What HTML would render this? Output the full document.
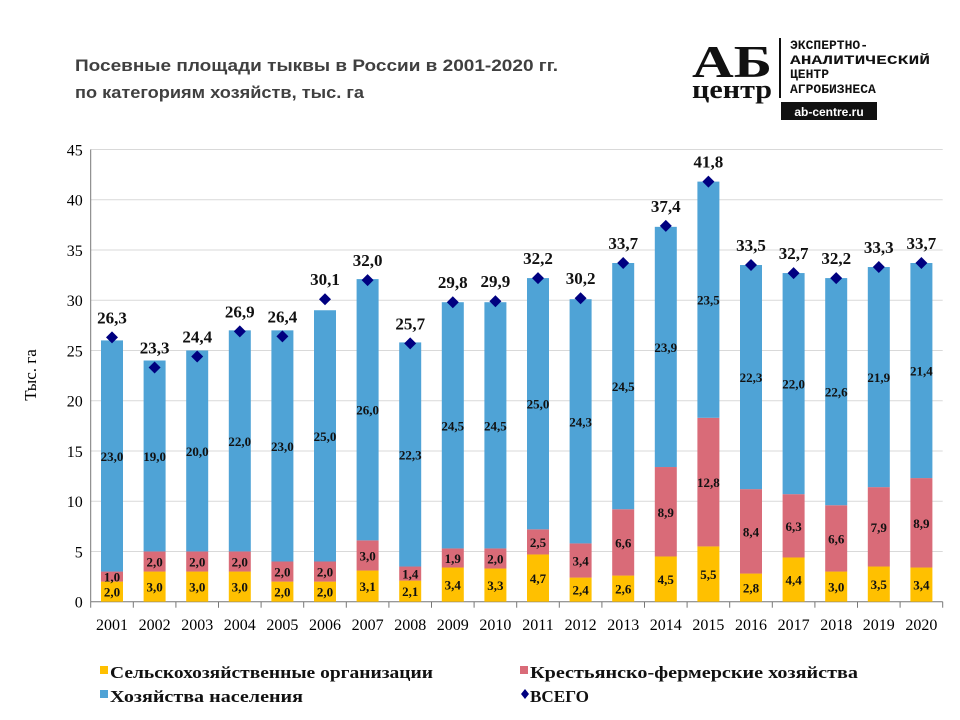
<!DOCTYPE html>
<html><head><meta charset="utf-8"><style>
body{margin:0;background:#fff;width:960px;height:720px;overflow:hidden}
svg{display:block}
</style></head><body>
<svg id="chart" width="960" height="720" xmlns="http://www.w3.org/2000/svg">
<text x="75" y="71" font-family="Liberation Sans, sans-serif" font-weight="bold" font-size="17" fill="#404040" textLength="483" lengthAdjust="spacingAndGlyphs">Посевные площади тыквы в России в 2001-2020 гг.</text>
<text x="75" y="98" font-family="Liberation Sans, sans-serif" font-weight="bold" font-size="17" fill="#404040" textLength="289" lengthAdjust="spacingAndGlyphs">по категориям хозяйств, тыс. га</text>
<g>
<text x="692" y="77" font-family="Liberation Serif, serif" font-weight="bold" font-size="46" fill="#111" textLength="80" lengthAdjust="spacingAndGlyphs">АБ</text>
<text x="692" y="98" font-family="Liberation Serif, serif" font-weight="bold" font-size="26" fill="#111" textLength="80" lengthAdjust="spacingAndGlyphs">центр</text>
<rect x="779" y="38" width="2" height="60" fill="#111"/>
<text x="790" y="49" font-family="Liberation Mono, monospace" font-weight="bold" font-size="13" fill="#111">ЭКСПЕРТНО-</text>
<text x="790" y="64" font-family="Liberation Mono, monospace" font-weight="bold" font-size="13" fill="#111" textLength="140" lengthAdjust="spacingAndGlyphs">АНАЛИТИЧЕСКИЙ</text>
<text x="790" y="78" font-family="Liberation Mono, monospace" font-weight="bold" font-size="13" fill="#111">ЦЕНТР</text>
<text x="790" y="93" font-family="Liberation Mono, monospace" font-weight="bold" font-size="13" fill="#111">АГРОБИЗНЕСА</text>
<rect x="781" y="102" width="96" height="18" fill="#111"/>
<text x="829" y="116" text-anchor="middle" font-family="Liberation Sans, sans-serif" font-weight="bold" font-size="12" fill="#fff">ab-centre.ru</text>
</g>
<text transform="translate(36,375) rotate(-90)" text-anchor="middle" font-family="Liberation Serif, serif" font-size="17" fill="#000">Тыс. га</text>
<g id="grid"></g><g id="bars"></g><g id="labels"></g>
<g font-family="Liberation Serif, serif" font-weight="bold" font-size="17" fill="#111">
<g><rect x="100" y="666" width="8" height="8" fill="#FFC000"/><text x="110" y="678" textLength="323" lengthAdjust="spacingAndGlyphs">Сельскохозяйственные организации</text></g>
<g><rect x="520" y="666" width="8" height="8" fill="#D96B78"/><text x="530" y="678" textLength="328" lengthAdjust="spacingAndGlyphs">Крестьянско-фермерские хозяйства</text></g>
<g><rect x="100" y="690" width="8" height="8" fill="#4FA3D6"/><text x="110" y="702" textLength="193" lengthAdjust="spacingAndGlyphs">Хозяйства населения</text></g>
<g><path d="M525,689 l4,5 l-4,5 l-4,-5z" fill="#000080"/><text x="530" y="702" textLength="59" lengthAdjust="spacingAndGlyphs">ВСЕГО</text></g>
</g>
</svg>
<script>
const years=["2001","2002","2003","2004","2005","2006","2007","2008","2009","2010","2011","2012","2013","2014","2015","2016","2017","2018","2019","2020"];
const agriOrgs=[2.0,3.0,3.0,3.0,2.0,2.0,3.1,2.1,3.4,3.3,4.7,2.4,2.6,4.5,5.5,2.8,4.4,3.0,3.5,3.4];
const farms=[1.0,2.0,2.0,2.0,2.0,2.0,3.0,1.4,1.9,2.0,2.5,3.4,6.6,8.9,12.8,8.4,6.3,6.6,7.9,8.9];
const households=[23.0,19.0,20.0,22.0,23.0,25.0,26.0,22.3,24.5,24.5,25.0,24.3,24.5,23.9,23.5,22.3,22.0,22.6,21.9,21.4];
const totals=[26.3,23.3,24.4,26.9,26.4,30.1,32.0,25.7,29.8,29.9,32.2,30.2,33.7,37.4,41.8,33.5,32.7,32.2,33.3,33.7];
const yTicks=[0,5,10,15,20,25,30,35,40,45];
const NS="http://www.w3.org/2000/svg";
const X0=90.7,CW=42.6,Y0=601.7,PU=10.05,BW=22;
const yS=v=>Y0-v*PU, xC=i=>X0+CW*(i+0.5);
const fmt=v=>v.toFixed(1).replace('.',',');
function mk(tag,attrs,parent,text){const e=document.createElementNS(NS,tag);for(const k in attrs)e.setAttribute(k,attrs[k]);if(text!==undefined)e.textContent=text;parent.appendChild(e);return e;}
const grid=document.getElementById('grid'),bars=document.getElementById('bars'),labels=document.getElementById('labels');
yTicks.forEach(t=>{
  if(t>0){const l=mk('line',{x1:X0,x2:X0+CW*years.length,y1:yS(t),y2:yS(t),stroke:'#d9d9d9','stroke-width':1},grid);
  
  }
  const tx=mk('text',{x:X0-8,y:yS(t)+6,'text-anchor':'end','font-family':'Liberation Serif, serif','font-size':16,fill:'#000'},grid,String(t));
  
  
});
mk('line',{x1:X0,x2:X0,y1:yS(45),y2:Y0,stroke:'#777'},grid);
mk('line',{x1:X0,x2:X0+CW*years.length,y1:Y0,y2:Y0,stroke:'#777'},grid);
years.forEach((y,i)=>{
  mk('line',{x1:X0+CW*i,x2:X0+CW*i,y1:Y0,y2:Y0+6,stroke:'#777'},grid);
  const t=mk('text',{x:xC(i),y:630,'text-anchor':'middle','font-family':'Liberation Serif, serif','font-size':16,fill:'#000'},grid,y);
  
  
});
mk('line',{x1:X0+CW*20,x2:X0+CW*20,y1:Y0,y2:Y0+6,stroke:'#777'},grid);
const series=[[agriOrgs,'#FFC000','agri'],[farms,'#D96B78','farms'],[households,'#4FA3D6','households']];
years.forEach((y,i)=>{
  let base=0;
  series.forEach(([arr,col,nm])=>{
    const v=arr[i];
    const r=mk('rect',{x:xC(i)-BW/2,y:yS(base+v),width:BW,height:v*PU,fill:col},bars);
    
    
    const t=mk('text',{x:xC(i),y:yS(base+v/2)+5,'text-anchor':'middle','font-family':'Liberation Serif, serif','font-weight':'bold','font-size':13,fill:'#111'},labels,fmt(v));
    
    
    base+=v;
  });
  const ty=yS(totals[i]);
  const d=mk('path',{d:`M${xC(i)},${ty-6} l6,6 l-6,6 l-6,-6z`,fill:'#000080'},labels);
  
  
  const t=mk('text',{x:xC(i),y:ty-14,'text-anchor':'middle','font-family':'Liberation Serif, serif','font-weight':'bold','font-size':17,fill:'#111'},labels,fmt(totals[i]));
  
  
});
</script>
</body></html>
